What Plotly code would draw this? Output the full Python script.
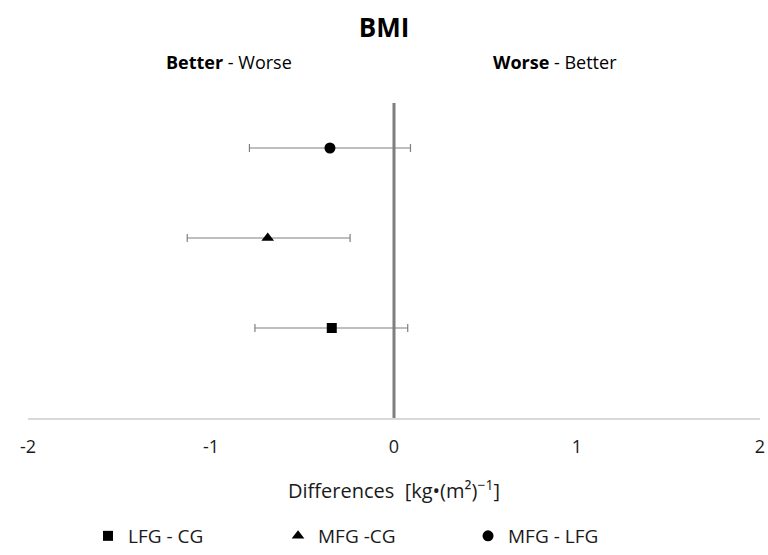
import plotly.graph_objects as go

# Data
series_names = ["LFG - CG", "MFG -CG", "MFG - LFG"]
series_symbols = ["square", "triangle-up", "circle"]
y_positions = [1, 2, 3]
means = [-0.34, -0.69, -0.35]
ci_lower = [-0.76, -1.13, -0.79]
ci_upper = [0.075, -0.24, 0.09]
x_ticks = [-2, -1, 0, 1, 2]
ref_line_x = [0, 0]
ref_line_y = [0, 3.5]

FONT = "Open Sans"

fig = go.Figure()

fig.add_trace(go.Scatter(
    x=ref_line_x, y=ref_line_y, mode="lines",
    line=dict(color="#7f7f7f", width=3), showlegend=False, hoverinfo="skip"))

for name, sym, y, m, lo, hi in zip(series_names, series_symbols, y_positions, means, ci_lower, ci_upper):
    fig.add_trace(go.Scatter(
        x=[m], y=[y], mode="markers", name=name,
        marker=dict(symbol=sym, color="black", size=11 if sym != "square" else 10),
        error_x=dict(type="data", symmetric=False, array=[hi - m], arrayminus=[m - lo],
                     color="#7f7f7f", thickness=1.2, width=4),
    ))

fig.update_layout(
    width=768, height=555,
    margin=dict(l=28, r=8, t=58, b=137),
    paper_bgcolor="white", plot_bgcolor="white",
    font=dict(family=FONT, color="#1a1a1a", size=17),
    title=dict(text="<b>BMI</b>", x=0.5, xanchor="center", y=1 - 28/555, yanchor="middle",
               font=dict(size=26, family=FONT, color="black")),
    xaxis=dict(range=[-2, 2], tickvals=x_ticks, ticktext=[str(t) for t in x_ticks],
               showgrid=False, zeroline=False, showline=True, linecolor="#d9d9d9", linewidth=1.5,
               ticks="outside", ticklen=12, tickcolor="rgba(0,0,0,0)",
               tickfont=dict(size=18, family=FONT, color="#1a1a1a"), automargin=False,
               title=dict(text="Differences  [kg•(m²)<sup>−1</sup>]", font=dict(size=20, family=FONT),
                          standoff=27)),
    yaxis=dict(range=[0, 4], visible=False, showgrid=False, zeroline=False),
    legend=dict(orientation="h", x=0.082, xanchor="left", xref="paper",
                y=0, yanchor="bottom", yref="container",
                entrywidth=145, entrywidthmode="pixels", font=dict(size=19, family=FONT)),
    annotations=[
        dict(x=-0.9, y=(418 - 62) / 360, xref="x", yref="paper", yanchor="middle",
             text="<b>Better</b> - Worse",
             showarrow=False, font=dict(size=18, family=FONT, color="black")),
        dict(x=0.88, y=(418 - 62) / 360, xref="x", yref="paper", yanchor="middle",
             text="<b>Worse</b> - Better",
             showarrow=False, font=dict(size=18, family=FONT, color="black")),
    ],
)

fig.write_html("out.html")
